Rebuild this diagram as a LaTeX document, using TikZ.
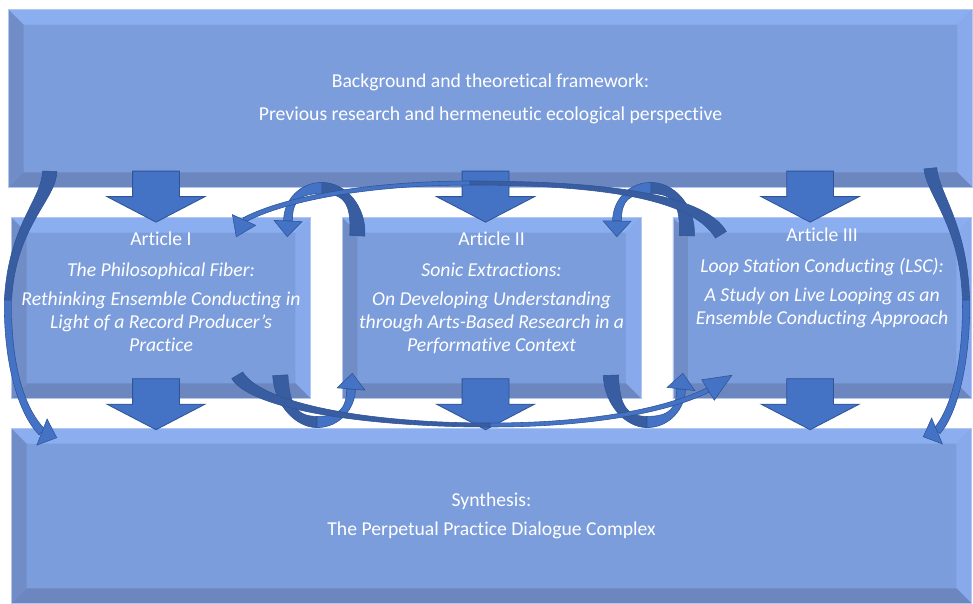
\documentclass[tikz,border=0pt]{standalone}
\usepackage{fontspec}
\setmainfont{Carlito}[Ligatures={NoCommon}]
\usetikzlibrary{calc}
\usetikzlibrary{positioning}
\usetikzlibrary{shapes.arrows}

\definecolor{boxface}{HTML}{7B9DDB}
\definecolor{bevtop}{HTML}{8BAEF1}
\definecolor{bevright}{HTML}{88AAEC}
\definecolor{bevleft}{HTML}{718DC8}
\definecolor{bevbottom}{HTML}{6C87C0}
\definecolor{boxrim}{HTML}{B3C7EC}
\definecolor{arrowblue}{HTML}{4472C4}
\definecolor{arrowline}{HTML}{2F5597}
\definecolor{ribbondark}{HTML}{385DA0}

% curved band between two bezier edges, tapering from #6 to #7
\newcommand{\ribbonpart}[7]{%
  \filldraw[#1] ($(#2)!#6!90:(#3)$)
    .. controls ($(#3)!#6!-90:(#2)$) and ($(#4)!#7!90:(#5)$) .. ($(#5)!#7!-90:(#4)$)
    -- ($(#5)!#7!90:(#4)$)
    .. controls ($(#4)!#7!-90:(#5)$) and ($(#3)!#6!90:(#2)$) .. ($(#2)!#6!-90:(#3)$)
    -- cycle;}
% triangular head from base #2 to tip #3
\newcommand{\ribbonhead}[4]{%
  \filldraw[#1] (#3) -- ($(#2)!#4!90:(#3)$) -- ($(#2)!#4!-90:(#3)$) -- cycle;}

\tikzset{
  x=0.25mm, y=-0.25mm,
  panel/.style={rectangle, fill=boxface, inner sep=0pt, text=white, align=center,
    font=\fontsize{14}{16.3}\selectfont},
  article/.style={panel, minimum width=74.5mm, minimum height=45mm},
  paneltext/.style={text=white, align=center, inner sep=0pt,
    font=\fontsize{14}{16.3}\selectfont},
  downarrow/.style={single arrow, rotate=-90, anchor=tail, fill=arrowblue,
    draw=arrowline, line width=0.6pt, inner xsep=0pt, inner ysep=5.75mm,
    minimum height=12.75mm,
    single arrow head extend=6.4mm, single arrow tip angle=125},
  ribbonback/.style={fill=ribbondark, draw=arrowline, line width=0.4pt},
  ribbonfront/.style={fill=arrowblue, draw=arrowline, line width=0.4pt},
}

\begin{document}
\begin{tikzpicture}
  \fill[white] (0,0) rectangle (973,604);
  \useasboundingbox (0,0) rectangle (973,604);

  % panels
  \node[panel, minimum width=240.75mm, minimum height=44.25mm] (bg) at (490.5,98.5)
    {Background and theoretical framework:\\[7.1pt]
     Previous research and hermeneutic ecological perspective};
  \node[article] (art1) at (161,308) {};
  \node[article, right=8mm of art1] (art2) {};
  \node[article, right=8mm of art2] (art3) {};
  \node[panel, minimum width=239.75mm, minimum height=43.5mm] (syn) at (491.5,516)
    {Synthesis:\\[4.3pt] The Perpetual Practice Dialogue Complex};

  % bevelled edges
  \foreach \n in {bg,art1,art2,art3,syn} {
    \fill[bevtop] (\n.north west) -- (\n.north east)
      -- ([shift={(-3.75mm,-3.75mm)}]\n.north east) -- ([shift={(3.75mm,-3.75mm)}]\n.north west) -- cycle;
    \fill[bevright] (\n.north east) -- (\n.south east)
      -- ([shift={(-3.75mm,3.75mm)}]\n.south east) -- ([shift={(-3.75mm,-3.75mm)}]\n.north east) -- cycle;
    \fill[bevbottom] (\n.south east) -- (\n.south west)
      -- ([shift={(3.75mm,3.75mm)}]\n.south west) -- ([shift={(-3.75mm,3.75mm)}]\n.south east) -- cycle;
    \fill[bevleft] (\n.south west) -- (\n.north west)
      -- ([shift={(3.75mm,-3.75mm)}]\n.north west) -- ([shift={(3.75mm,3.75mm)}]\n.south west) -- cycle;
    \draw[boxrim, line width=0.5pt] (\n.north west) rectangle (\n.south east);
  }

  % article texts
  \node[paneltext, anchor=north] (t1) at ($(art1.north)+(0,14)$)
    {Article I\\[5.7pt] \textit{The Philosophical Fiber:}\\[4.3pt]
     \textit{Rethinking Ensemble Conducting in}\\ \textit{Light of a Record Producer’s}\\ \textit{Practice}};
  \node[paneltext, anchor=north] (t2) at ($(art2.north)+(0,14)$)
    {Article II\\[5.7pt] \textit{Sonic Extractions:}\\[4.3pt]
     \textit{On Developing Understanding}\\ \textit{through Arts-Based Research in a}\\ \textit{Performative Context}};
  \node[paneltext, anchor=north] (t3) at ($(art3.north)+(0,10)$)
    {Article III\\[5.7pt] \textit{Loop Station Conducting (LSC):}\\[4.3pt]
     \textit{A Study on Live Looping as an}\\ \textit{Ensemble Conducting Approach}};

  % block arrows
  \node[downarrow] (d1) at ($(art1.north)+(-5,-47)$) {};
  \node[downarrow] (d2) at ($(art2.north)+(-6,-47)$) {};
  \node[downarrow] (d3) at ($(art3.north)+(-12,-47)$) {};
  \node[downarrow] (e1) at ($(art1.south)+(-5,-20)$) {};
  \node[downarrow] (e2) at ($(art2.south)+(-6,-20)$) {};
  \node[downarrow] (e3) at ($(art3.south)+(-12,-20)$) {};

  % loops over the gaps
  \coordinate (lpa-s) at ($(art2.north west)+(15,18)$);
  \coordinate (lpa-t) at ($(art1.north east)+(-23,19)$);
  \ribbonpart{ribbonback}{lpa-s}{359,205}{345,188}{322,188}{1.9mm}{1.4mm}
  \ribbonpart{ribbonfront}{322,188}{300,188}{288,200}{288,221}{1.4mm}{1.1mm}
  \ribbonhead{ribbonfront}{288,221}{lpa-t}{3.5mm}

  \coordinate (lpb-s) at ($(art3.north west)+(14,18)$);
  \coordinate (lpb-t) at ($(art2.north east)+(-24,19)$);
  \ribbonpart{ribbonback}{lpb-s}{688,205}{674,188}{651,188}{1.9mm}{1.4mm}
  \ribbonpart{ribbonfront}{651,188}{629,188}{617,200}{617,221}{1.4mm}{1.1mm}
  \ribbonhead{ribbonfront}{617,221}{lpb-t}{3.5mm}

  \coordinate (lpc-s) at ($(art1.south east)+(-30,-23)$);
  \coordinate (lpc-t) at ($(art2.south west)+(10,-25)$);
  \ribbonpart{ribbonback}{lpc-s}{282,405}{296,422}{317,422}{1.9mm}{1.4mm}
  \ribbonpart{ribbonfront}{317,422}{340,422}{351,408}{351,389}{1.4mm}{1.1mm}
  \ribbonhead{ribbonfront}{351,389}{lpc-t}{3.5mm}

  \coordinate (lpd-s) at ($(art2.south east)+(-30,-23)$);
  \coordinate (lpd-t) at ($(art3.south west)+(10,-25)$);
  \ribbonpart{ribbonback}{lpd-s}{612,405}{626,422}{647,422}{1.9mm}{1.4mm}
  \ribbonpart{ribbonfront}{647,422}{670,422}{681,408}{681,389}{1.4mm}{1.1mm}
  \ribbonhead{ribbonfront}{681,389}{lpd-t}{3.5mm}

  % long returns between articles I and III
  \coordinate (lng-s) at ($(art3.north west)+(48,17)$);
  \coordinate (lng-t) at ($(art1.north east)+(-74,19)$);
  \ribbonpart{ribbonback}{lng-s}{700,200}{620,183}{470,183}{1.6mm}{0.5mm}
  \ribbonpart{ribbonfront}{470,183}{380,183}{290,196}{244,220}{0.5mm}{0.6mm}
  \ribbonhead{ribbonfront}{244,220}{lng-t}{3.2mm}

  \coordinate (lnh-s) at ($(art1.south east)+(-73,-23)$);
  \coordinate (lnh-t) at ($(art3.south west)+(59,-23)$);
  \ribbonpart{ribbonback}{lnh-s}{255,405}{360,425}{490,425}{1.6mm}{0.5mm}
  \ribbonpart{ribbonfront}{490,425}{600,425}{672,408}{708,390}{0.5mm}{0.6mm}
  \ribbonhead{ribbonfront}{708,390}{lnh-t}{3mm}

  % outer arcs from background to synthesis
  \coordinate (lft-s) at ($(bg.south west)+(41,-16)$);
  \coordinate (lft-t) at ($(syn.north west)+(45,9)$);
  \ribbonpart{ribbonback}{lft-s}{49,200}{12,225}{8,300}{1.8mm}{0.9mm}
  \ribbonpart{ribbonfront}{8,300}{7,360}{20,410}{42,432}{0.9mm}{1mm}
  \ribbonhead{ribbonfront}{42,432}{lft-t}{3.5mm}

  \coordinate (rgt-s) at ($(bg.south east)+(-42,-19)$);
  \coordinate (rgt-t) at ($(syn.north east)+(-48,8)$);
  \ribbonpart{ribbonback}{rgt-s}{933,195}{964,225}{966,300}{1.6mm}{0.9mm}
  \ribbonpart{ribbonfront}{966,300}{967,360}{955,410}{937,431}{0.9mm}{1mm}
  \ribbonhead{ribbonfront}{937,431}{rgt-t}{3.5mm}
\end{tikzpicture}
\end{document}
